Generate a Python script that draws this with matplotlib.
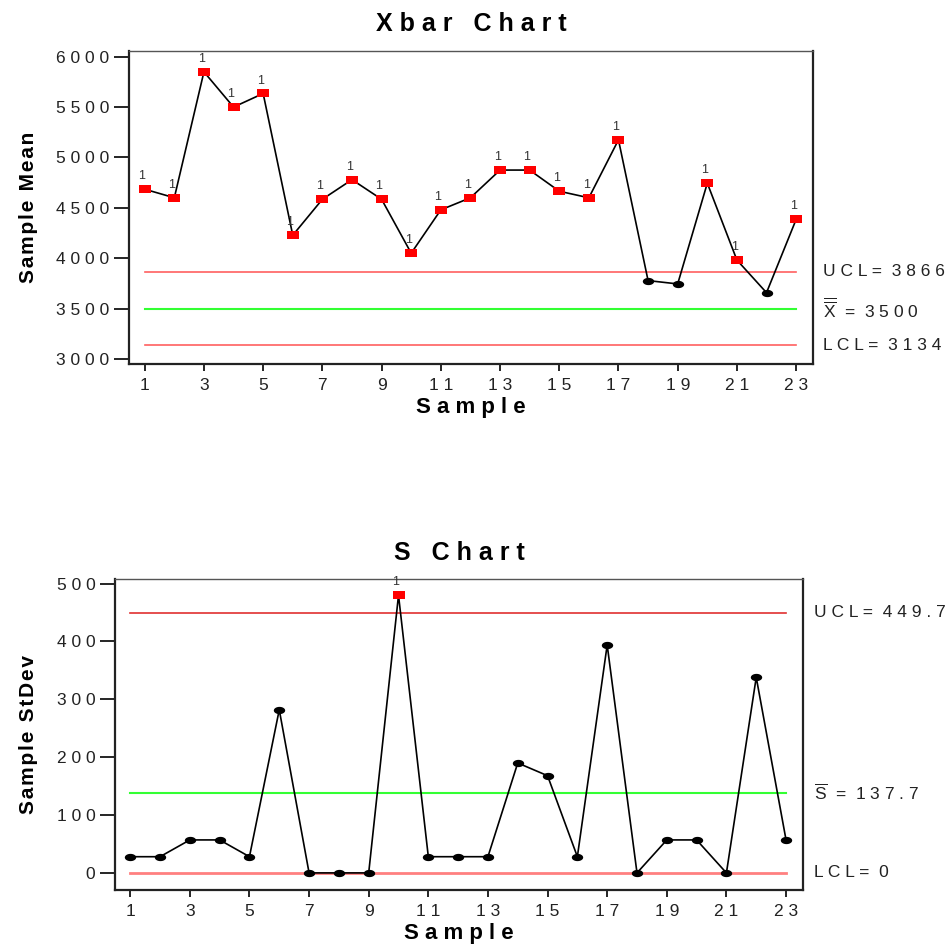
import matplotlib
matplotlib.use("Agg")
import matplotlib.pyplot as plt
import numpy as np
from matplotlib.path import Path

plt.rcParams['font.family'] = ['Liberation Sans', 'DejaVu Sans']
plt.rcParams['mathtext.fontset'] = 'custom'
plt.rcParams['mathtext.rm'] = 'Liberation Sans'
plt.rcParams['mathtext.it'] = 'Liberation Sans'

# --- data ---
samples = list(range(1, 24))
xbar = [4685, 4600, 5850, 5500, 5635, 4228, 4585, 4780, 4585, 4050, 4480, 4600,
        4875, 4875, 4665, 4600, 5175, 3778, 3745, 4745, 3982, 3658, 4385]
xbar_flag = [1, 1, 1, 1, 1, 1, 1, 1, 1, 1, 1, 1,
             1, 1, 1, 1, 1, 0, 0, 1, 1, 0, 1]
xbar_ucl, xbar_cl, xbar_lcl = 3866, 3500, 3134

sdev = [28, 28, 57, 57, 28, 282, 0, 0, 0, 480, 28, 28,
        28, 190, 168, 28, 394, 0, 57, 57, 0, 338, 57]
sdev_flag = [0] * 9 + [1] + [0] * 13
s_ucl, s_cl, s_lcl = 449.7, 137.7, 0

xticks = list(range(1, 24, 2))

# marker shapes
rect = Path([(-1, -0.68), (1, -0.68), (1, 0.68), (-1, 0.68), (-1, -0.68)],
            [Path.MOVETO, Path.LINETO, Path.LINETO, Path.LINETO, Path.CLOSEPOLY])
t = np.linspace(0, 2 * np.pi, 40)
ellipse = Path(np.column_stack([np.cos(t), 0.64 * np.sin(t)]), closed=True)


def spaced(s, sep=" "):
    return sep.join(s)


fig = plt.figure(figsize=(9.48, 9.49), dpi=100)


def draw_chart(ax, vals, flags, ucl, cl, lcl, ucl_col, lcl_col, lcl_lw,
               ylim, yticks, xlim, title, ylabel, labels):
    ax.plot(samples, vals, color="black", lw=1.2, zorder=3)
    for x, v, f in zip(samples, vals, flags):
        if f:
            ax.plot(x, v, marker=rect, color="red", ms=8, mew=0, zorder=4)
            ax.annotate("1", (x, v), xytext=(-2, 5), textcoords="offset points",
                        ha="center", va="bottom", fontsize=9, color="#333333")
        else:
            ax.plot(x, v, marker=ellipse, color="black", ms=8.2, mew=0, zorder=4)
    ax.plot([1, 23], [ucl, ucl], color=ucl_col, lw=1.2, zorder=2)
    ax.plot([1, 23], [cl, cl], color="#33ff33", lw=1.5, zorder=2)
    ax.plot([1, 23], [lcl, lcl], color=lcl_col, lw=lcl_lw, zorder=2)
    ax.set_xlim(*xlim)
    ax.set_ylim(*ylim)
    ax.set_xticks(xticks)
    ax.set_xticklabels([spaced(str(v)) for v in xticks], fontsize=12.5, color="#222222")
    ax.set_yticks(yticks)
    ax.set_yticklabels([spaced(str(v)) for v in yticks], fontsize=12.5, color="#222222")
    ax.tick_params(axis="y", length=11, width=1.2, pad=3)
    ax.tick_params(axis="x", length=5, width=1.2, pad=5)
    for side in ["left", "bottom", "right"]:
        ax.spines[side].set_linewidth(1.6)
        ax.spines[side].set_color("#222222")
    ax.spines["top"].set_linewidth(1.0)
    ax.spines["top"].set_color("#555555")
    ax.set_title(spaced(title), fontsize=18, fontweight="bold", pad=14)
    ax.set_xlabel(spaced("Sample"), fontsize=16, fontweight="bold", labelpad=3)
    ax.set_ylabel(spaced(ylabel, "\u200a"), fontsize=15, fontweight="bold", labelpad=13)
    for txt, yv in labels:
        ax.annotate(txt, (1.015, yv), xycoords=("axes fraction", "data"),
                    ha="left", va="center", fontsize=12.5, color="#222222",
                    annotation_clip=False)


ax1 = fig.add_axes([0.1361, 0.6161, 0.7215, 0.3305])
draw_chart(ax1, xbar, xbar_flag, xbar_ucl, xbar_cl, xbar_lcl,
           "#ff6060", "#ff6060", 1.2,
           (2947, 6060), list(range(3000, 6001, 500)), (0.47, 23.57),
           "Xbar Chart", "Sample Mean",
           [(spaced("UCL=") + "  " + spaced(str(xbar_ucl)), xbar_ucl),
            (r"$\overline{\overline{\mathrm{X}}}\ $" + " =  " + spaced(str(xbar_cl)), xbar_cl),
            (spaced("LCL=") + "  " + spaced(str(xbar_lcl)), xbar_lcl)])

ax2 = fig.add_axes([0.121, 0.0625, 0.7264, 0.3274])
draw_chart(ax2, sdev, sdev_flag, s_ucl, s_cl, s_lcl,
           "#e03030", "#ff8080", 2.0,
           (-29, 508), list(range(0, 501, 100)), (0.48, 23.58),
           "S Chart", "Sample StDev",
           [(spaced("UCL=") + "  " + spaced(str(s_ucl)), s_ucl),
            (r"$\overline{\mathrm{S}}\ $" + " =  " + spaced(str(s_cl)), s_cl),
            (spaced("LCL=") + "  " + spaced(str(s_lcl)), s_lcl)])

fig.savefig("out.png", dpi=100)
plt.close(fig)
